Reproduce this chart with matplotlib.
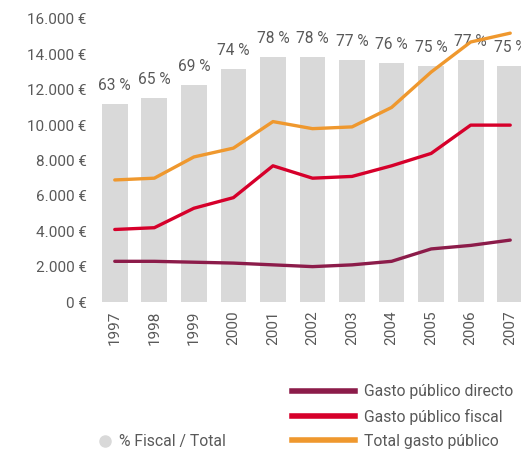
import matplotlib.pyplot as plt
from matplotlib.lines import Line2D

years = ['1997', '1998', '1999', '2000', '2001', '2002', '2003', '2004', '2005', '2006', '2007']
pct_fiscal = [63, 65, 69, 74, 78, 78, 77, 76, 75, 77, 75]
gasto_directo = [2300, 2300, 2250, 2200, 2100, 2000, 2100, 2300, 3000, 3200, 3500]
gasto_fiscal = [4100, 4200, 5300, 5900, 7700, 7000, 7100, 7700, 8400, 10000, 10000]
gasto_total = [6900, 7000, 8200, 8700, 10200, 9800, 9900, 11000, 13000, 14700, 15200]

plt.rcParams['font.family'] = ['Roboto', 'DejaVu Sans']
grey_txt = '#595959'
c_bar = '#d9d9d9'
c_dir = '#8c1c4a'
c_fis = '#d6002b'
c_tot = '#ef982e'

fig = plt.figure(figsize=(5.21, 4.51), dpi=100)
ax = fig.add_axes([95 / 521, 149 / 451, 435 / 521, 283 / 451])
ax2 = ax.twinx()

x = range(len(years))

# bars on a hidden secondary axis (0-90 %)
ax2.bar(x, pct_fiscal, width=0.65, color=c_bar, zorder=1)
ax2.set_ylim(0, 90)
for i, p in enumerate(pct_fiscal):
    ax2.annotate(f'{p} %', (i, p), xytext=(0, 8), textcoords='offset points',
                 ha='center', va='bottom', fontsize=11.2, color=grey_txt)
ax2.axis('off')

ax.set_zorder(ax2.get_zorder() + 1)
ax.patch.set_visible(False)
ax.plot(x, gasto_directo, color=c_dir, lw=2.4, solid_capstyle='round')
ax.plot(x, gasto_fiscal, color=c_fis, lw=2.4, solid_capstyle='round')
ax.plot(x, gasto_total, color=c_tot, lw=2.4, solid_capstyle='round')

ax.set_xlim(-0.5, 10.5)
ax.set_ylim(0, 16000)
ax.set_yticks(range(0, 16001, 2000))
ax.set_yticklabels([f'{v:,.0f} €'.replace(',', '.') for v in range(0, 16001, 2000)])
ax.set_xticks(list(x))
ax.set_xticklabels(years, rotation=90)
ax.tick_params(length=0, labelsize=11, labelcolor=grey_txt, pad=6)
for s in ax.spines.values():
    s.set_visible(False)

line_handles = [Line2D([], [], color=c_dir, lw=4),
                Line2D([], [], color=c_fis, lw=4),
                Line2D([], [], color=c_tot, lw=4)]
fig.legend(line_handles, ['Gasto público directo', 'Gasto público fiscal', 'Total gasto público'],
           loc='upper left', bbox_to_anchor=(278 / 521, 1 - 370 / 451), frameon=False,
           fontsize=11.3, handlelength=4.0, handletextpad=0.57, labelspacing=0.6,
           labelcolor=grey_txt)
dot = Line2D([], [], marker='o', color=c_bar, ls='none', markersize=8)
fig.legend([dot], ['% Fiscal / Total'], loc='upper left', bbox_to_anchor=(83 / 521, 1 - 420 / 451),
           frameon=False, fontsize=11.3, handlelength=1, handletextpad=0.4, labelcolor=grey_txt)

fig.savefig('out.png', dpi=100)
